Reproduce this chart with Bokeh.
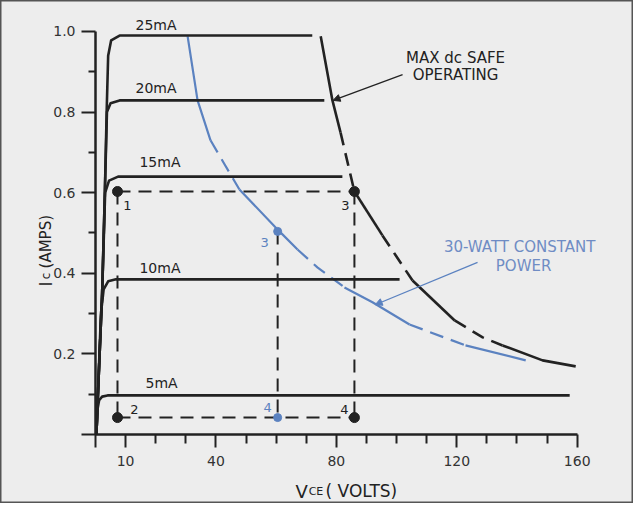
from bokeh.plotting import figure
from bokeh.models import (Range1d, LinearAxis, FixedTicker, PrintfTickFormatter,
                          Arrow, NormalHead, ColumnDataSource)
from bokeh.core.properties import value
from bokeh.embed import file_html
from bokeh.resources import INLINE

# ---------------- data ----------------
# collector curves, base current labels
ib_labels = ["5mA", "10mA", "15mA", "20mA", "25mA"]
ib5_v = [0.3, 0.6, 1.2, 2.2, 4.0, 157.5]
ib5_i = [0.0, 0.06, 0.085, 0.094, 0.097, 0.097]
ib10_v = [0.3, 0.7, 1.8, 2.7, 4.2, 6.8, 101.0]
ib10_i = [0.0, 0.08, 0.30, 0.36, 0.38, 0.385, 0.385]
ib15_v = [0.3, 0.7, 2.2, 3.2, 4.5, 7.5, 82.0]
ib15_i = [0.0, 0.08, 0.35, 0.60, 0.63, 0.64, 0.64]
ib20_v = [0.3, 0.7, 2.2, 3.1, 3.8, 5.0, 8.0, 76.0]
ib20_i = [0.0, 0.08, 0.35, 0.60, 0.80, 0.822, 0.829, 0.829]
ib25_v = [0.3, 0.7, 2.2, 3.1, 3.7, 4.2, 5.2, 8.0, 72.0]
ib25_i = [0.0, 0.08, 0.35, 0.60, 0.80, 0.94, 0.978, 0.99, 0.99]

# max dc safe operating curve
safe_v = [74.8, 78.7, 81.4, 86.0, 95.3, 105.3, 119.3, 128.6, 135.2, 148.5, 159.5]
safe_i = [0.988, 0.829, 0.749, 0.603, 0.494, 0.382, 0.283, 0.241, 0.221, 0.184, 0.169]
safe_dashed = [False, False, True, False, True, False, True, True, False, False]

# 30-watt constant power curve
pw_v = [30.6, 33.9, 38.2, 42.9, 47.8, 61.1, 67.1, 73.8, 82.7, 92.0, 104.3, 122.9, 142.9]
pw_i = [0.988, 0.829, 0.73, 0.67, 0.608, 0.504, 0.459, 0.414, 0.365, 0.328, 0.273, 0.221, 0.184]
pw_dashed = [False, False, True, True, False, False, True, True, False, False, True, False]

# operating points
op_v = [7.3, 7.3, 86.0, 86.0]
op_i = [0.603, 0.042, 0.603, 0.042]
op_lab = ["1", "2", "3", "4"]
pb_v = [60.5, 60.5]
pb_i = [0.504, 0.042]
pb_lab = ["3", "4"]

# axes
x_ticks = [0, 10, 40, 80, 120, 160]
x_minor = [20, 30, 50, 60, 70, 90, 100, 110, 130, 140, 150]
y_ticks = [0, 0.2, 0.4, 0.6, 0.8, 1.0]
y_minor = [0.1, 0.3, 0.5, 0.7, 0.9]

# ---------------- styles ----------------
BG = "#ededed"
INK = "#222222"
BLUE = "#5b82c0"
BLUE_TXT = "#6f8cc4"
FONT = "DejaVu Sans"

p = figure(width=633, height=503, output_backend="svg", toolbar_location=None,
           x_range=Range1d(-31.56, 178.7), y_range=Range1d(-0.1712, 1.0769),
           x_axis_location=None, y_axis_location=None, min_border=0,
           background_fill_color=BG, border_fill_color=BG,
           outline_line_color="#555555", outline_line_width=2)
p.grid.grid_line_color = None

def style_axis(ax):
    ax.axis_line_color = INK
    ax.axis_line_width = 2.5
    ax.major_tick_line_color = INK
    ax.minor_tick_line_color = INK
    ax.major_tick_line_width = 2
    ax.minor_tick_line_width = 2
    ax.major_tick_in = 0
    ax.minor_tick_in = 0
    ax.major_label_text_font = FONT
    ax.major_label_text_font_size = "14px"
    ax.major_label_text_color = "#333333"

xaxis = LinearAxis(fixed_location=0,
                   ticker=FixedTicker(ticks=x_ticks, minor_ticks=x_minor),
                   bounds=(0, 160))
style_axis(xaxis)
xaxis.major_tick_out = 13
xaxis.minor_tick_out = 9
xaxis.major_label_standoff = 8
xaxis.major_label_overrides = {0: ""}
p.add_layout(xaxis, "below")

yaxis = LinearAxis(fixed_location=0,
                   ticker=FixedTicker(ticks=y_ticks, minor_ticks=y_minor),
                   bounds=(0, 1.0), formatter=PrintfTickFormatter(format="%.1f"))
style_axis(yaxis)
yaxis.major_tick_out = 14
yaxis.minor_tick_out = 7
yaxis.major_label_standoff = 6
yaxis.major_label_overrides = {0: ""}
p.add_layout(yaxis, "left")

# dashed operating-point lines
p.multi_line(xs=[[op_v[0], op_v[2]], [op_v[1], op_v[3]], [op_v[0], op_v[1]],
                 [op_v[2], op_v[3]], [pb_v[0], pb_v[1]]],
             ys=[[op_i[0], op_i[2]], [op_i[1], op_i[3]], [op_i[0], op_i[1]],
                 [op_i[2], op_i[3]], [pb_i[0], pb_i[1]]],
             line_color=INK, line_width=2, line_dash="13 8")

# piecewise solid/dashed curves
def draw_piecewise(vs, is_, dashed, color, width, dash):
    seg_x, seg_y, cur = [vs[0]], [is_[0]], dashed[0]
    for k in range(len(dashed)):
        if dashed[k] != cur:
            p.line(seg_x, seg_y, line_color=color, line_width=width,
                   line_dash=dash if cur else "solid", line_cap="butt")
            seg_x, seg_y, cur = [vs[k]], [is_[k]], dashed[k]
        seg_x.append(vs[k + 1]); seg_y.append(is_[k + 1])
    p.line(seg_x, seg_y, line_color=color, line_width=width,
           line_dash=dash if cur else "solid", line_cap="butt")

draw_piecewise(pw_v, pw_i, pw_dashed, BLUE, 2.2, "14 8")
draw_piecewise(safe_v, safe_i, safe_dashed, INK, 2.6, "13 8")

# collector characteristic curves
for vs, is_ in [(ib5_v, ib5_i), (ib10_v, ib10_i), (ib15_v, ib15_i),
                (ib20_v, ib20_i), (ib25_v, ib25_i)]:
    p.line(vs, is_, line_color=INK, line_width=2.6, line_join="round")

# curve labels
lab_src = ColumnDataSource(dict(x=[16.6, 14.6, 14.6, 13.3, 13.3],
                                y=[0.127, 0.414, 0.675, 0.861, 1.017],
                                t=ib_labels))
p.text(x="x", y="y", text="t", source=lab_src, text_font=value(FONT),
       text_font_size="14px", text_color=INK, text_baseline="middle",
       text_align="left")

# operating points
p.scatter(op_v, op_i, size=10, color=INK)
p.scatter(pb_v, pb_i, size=8, color=BLUE)
p.text(x=op_v, y=op_i, text=op_lab, x_offset=[10, 17, -9, -10],
       y_offset=[14, -8, 14, -8], text_font=value(FONT), text_font_size="13px",
       text_color=INK, text_align="center", text_baseline="middle")
p.text(x=pb_v, y=pb_i, text=pb_lab, x_offset=[-13, -10], y_offset=[11, -10],
       text_font=value(FONT), text_font_size="13px", text_color=BLUE,
       text_align="center", text_baseline="middle")

# annotations
p.text(x=[119.6, 119.6], y=[0.933, 0.891], text=["MAX dc SAFE", "OPERATING"],
       text_font=value(FONT), text_font_size="15px", text_color=INK,
       text_align="center", text_baseline="middle")
p.add_layout(Arrow(end=NormalHead(size=7, fill_color=INK, line_color=INK),
                   x_start=102.0, y_start=0.893, x_end=78.9, y_end=0.829,
                   line_color=INK, line_width=1.3))
p.text(x=[140.9, 142.2], y=[0.466, 0.417], text=["30-WATT CONSTANT", "POWER"],
       text_font=value(FONT), text_font_size="15px", text_color=BLUE_TXT,
       text_align="center", text_baseline="middle")
p.add_layout(Arrow(end=NormalHead(size=7, fill_color=BLUE, line_color=BLUE),
                   x_start=126.9, y_start=0.427, x_end=92.9, y_end=0.322,
                   line_color=BLUE, line_width=1.3))

# axis titles
p.text(x=[66.4], y=[-0.141], text=["V"], text_font=value(FONT), text_font_size="18px",
       text_color=INK, text_align="left", text_baseline="alphabetic")
p.text(x=[70.8], y=[-0.141], text=["CE"], text_font=value(FONT), text_font_size="11px",
       text_color=INK, text_align="left", text_baseline="alphabetic")
p.text(x=[76.4], y=[-0.141], text=["( VOLTS)"], text_font=value(FONT),
       text_font_size="17px", text_color=INK, text_align="left",
       text_baseline="alphabetic")
p.text(x=[-16.6], y=[0.367], text=["I"], angle=1.5708, text_font=value(FONT),
       text_font_size="17px", text_color=INK, text_align="left",
       text_baseline="alphabetic")
p.text(x=[-16.6], y=[0.385], text=["c"], angle=1.5708, text_font=value(FONT),
       text_font_size="12px", text_color=INK, text_align="left",
       text_baseline="alphabetic")
p.text(x=[-16.6], y=[0.412], text=["(AMPS)"], angle=1.5708, text_font=value(FONT),
       text_font_size="15px", text_color=INK, text_align="left",
       text_baseline="alphabetic")

open("out.html", "w").write(file_html(p, INLINE))
